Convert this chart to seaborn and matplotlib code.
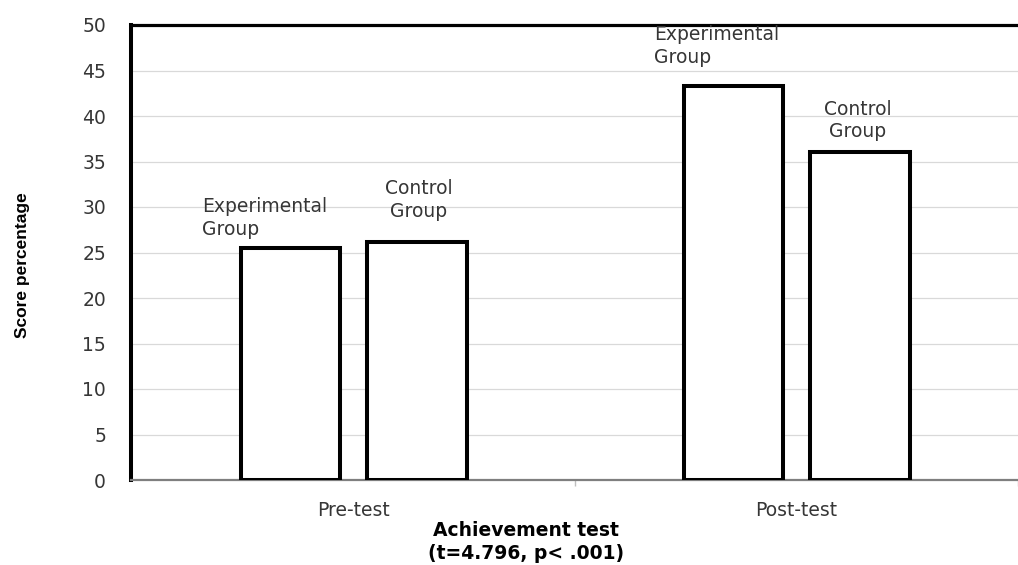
import numpy as np
import pandas as pd
import matplotlib
matplotlib.use('Agg')
import matplotlib.pyplot as plt
import seaborn as sns

# ---------------------------------------------------------------------------
# data
# ---------------------------------------------------------------------------
tests = ['Pre-test', 'Post-test']
groups = ['Experimental Group', 'Control Group']
experimental = [25.5, 43.3]
control = [26.2, 36.0]
y_ticks = [0, 5, 10, 15, 20, 25, 30, 35, 40, 45, 50]
bar_labels = ['Experimental\nGroup', 'Control\nGroup']

df = pd.DataFrame({
    'test': tests * 2,
    'group': [groups[0]] * len(tests) + [groups[1]] * len(tests),
    'score': experimental + control,
})

# ---------------------------------------------------------------------------
# style
# ---------------------------------------------------------------------------
sns.set_theme(style='white')
plt.rcParams['font.family'] = ['DejaVu Sans']
TEXT_COLOR = '#363636'
FS = 13.5

W, H = 1018, 565
fig = plt.figure(figsize=(W / 100, H / 100), dpi=100)
ax = fig.add_axes([131 / W, 1 - 480 / H, 1 - 131 / W, (480 - 25) / H])

ax.yaxis.grid(True, color='#d9d9d9', linewidth=0.9, zorder=0)
ax.set_axisbelow(True)

sns.barplot(data=df, x='test', y='score', hue='group', order=tests,
            hue_order=groups, palette={g: 'white' for g in groups},
            edgecolor='black', linewidth=2.9, width=0.57, gap=0.21,
            legend=False, ax=ax, zorder=3)

# x range: first category centred at 357 px, spacing 449 px
ax.set_xlim(-0.503, 1.472)
ax.set_ylim(0, 50)
ax.set_yticks(y_ticks)
ax.set_xlabel('')
ax.set_ylabel('')

ax.tick_params(axis='y', length=0, pad=18, labelsize=FS, labelcolor=TEXT_COLOR)
ax.tick_params(axis='x', which='major', length=0, pad=15, labelsize=FS,
               labelcolor=TEXT_COLOR)
ax.set_xticks([0.5, 1.5], minor=True)
ax.tick_params(axis='x', which='minor', length=4, width=1, color='#bfbfbf',
               bottom=True)

ax.spines['right'].set_visible(False)
ax.spines['left'].set_linewidth(2.9)
ax.spines['left'].set_color('black')
ax.spines['top'].set_linewidth(2.3)
ax.spines['top'].set_color('black')
ax.spines['bottom'].set_linewidth(1.6)
ax.spines['bottom'].set_color('#7f7f7f')

# data labels above bars: (anchor, dx px, gap px above bar)
label_offsets = {
    (0, 0): ('left', -39, 13),
    (1, 0): ('center', 2, 25),
    (0, 1): ('left', -30, 23),
    (1, 1): ('center', -2, 15),
}
for gi, cont in enumerate(ax.containers):
    for ti, bar in enumerate(cont):
        ha, dx, dy = label_offsets[(gi, ti)]
        xa = bar.get_x() if ha == 'left' else bar.get_x() + bar.get_width() / 2
        ax.annotate(bar_labels[gi], xy=(xa, bar.get_height()),
                    xytext=(dx, dy), textcoords='offset pixels',
                    ha=ha, va='baseline', multialignment=ha,
                    fontsize=FS, color=TEXT_COLOR, linespacing=1.25,
                    zorder=5)

fig.text(23 / W, 1 - 265 / H, 'Score percentage', rotation=90,
         ha='center', va='center', fontsize=12.5, fontweight='bold',
         family=['Liberation Sans', 'DejaVu Sans'], color='black')
fig.text(526 / W, 1 - 542 / H, 'Achievement test\n(t=4.796, p< .001)',
         ha='center', va='center', fontsize=13.5, fontweight='bold',
         color='black', linespacing=1.3)

fig.savefig('out.png', dpi=100, facecolor='white')
